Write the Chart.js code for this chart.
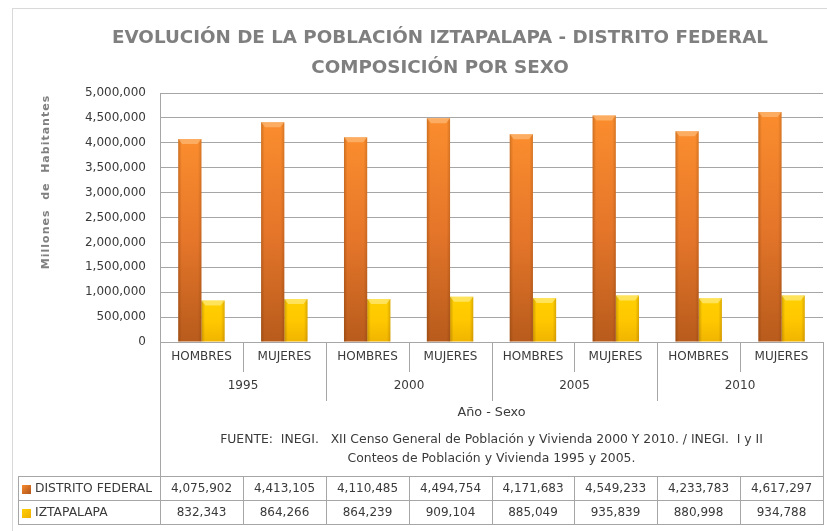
<!DOCTYPE html>
<html>
<head>
<meta charset="utf-8">
<script src="https://cdn.jsdelivr.net/npm/chart.js@4.4.0/dist/chart.umd.min.js"></script>
<style>
  html, body { margin: 0; padding: 0; background: #ffffff; }
  #wrap { width: 827px; height: 531px; position: relative; }
</style>
</head>
<body>
<div id="wrap"><canvas id="c" width="827" height="531"></canvas></div>
<script>
// ---- data ----
const titleLines = ['EVOLUCIÓN DE LA POBLACIÓN IZTAPALAPA - DISTRITO FEDERAL', 'COMPOSICIÓN POR SEXO'];
const categories = ['HOMBRES', 'MUJERES', 'HOMBRES', 'MUJERES', 'HOMBRES', 'MUJERES', 'HOMBRES', 'MUJERES'];
const years = ['1995', '2000', '2005', '2010'];
const seriesNames = ['DISTRITO FEDERAL', 'IZTAPALAPA'];
const distritoFederal = [4075902, 4413105, 4110485, 4494754, 4171683, 4549233, 4233783, 4617297];
const iztapalapa = [832343, 864266, 864239, 909104, 885049, 935839, 880998, 934788];
const yTitle = 'Millones  de  Habitantes';
const xTitle = 'Año - Sexo';
const sourceLines = ['FUENTE:  INEGI.   XII Censo General de Población y Vivienda 2000 Y 2010. / INEGI.  I y II',
                     'Conteos de Población y Vivienda 1995 y 2005.'];

const fmt = v => Number(v).toLocaleString('en-US');
const FONT = '"DejaVu Sans", sans-serif';
const LINE = '#a6a6a6';
const TXT = '#3a3a3a';

function barGradient(ctx, colors) {
  const chart = ctx.chart;
  const area = chart.chartArea;
  if (!area || ctx.type !== 'data') return colors[0];
  const y = chart.scales.y;
  const top = y.getPixelForValue(ctx.raw);
  const bottom = y.getPixelForValue(0);
  const g = chart.ctx.createLinearGradient(0, top, 0, bottom);
  g.addColorStop(0, colors[0]);
  g.addColorStop(0.5, colors[1]);
  g.addColorStop(1, colors[2]);
  return g;
}

const orangeStops = ['#fb8d2e', '#e5762a', '#b85b1c'];
const yellowStops = ['#ffd000', '#ffc800', '#f0b400'];

const decorPlugin = {
  id: 'decor',
  beforeDraw(chart) {
    const c = chart.ctx;
    c.save();
    c.strokeStyle = '#d9d9d9';
    c.lineWidth = 1;
    c.strokeRect(12.5, 8.5, 900, 600);
    c.restore();
  },
  afterDatasetsDraw(chart) {
    const c = chart.ctx;
    c.save();
    chart.data.datasets.forEach((ds, di) => {
      const meta = chart.getDatasetMeta(di);
      meta.data.forEach(bar => {
        const w = bar.width, x0 = bar.x - w / 2, x1 = bar.x + w / 2, t = bar.y, b = bar.base;
        const eg = c.createLinearGradient(x0, 0, x1, 0);
        eg.addColorStop(0, 'rgba(90,40,0,0.28)');
        eg.addColorStop(0.15, 'rgba(90,40,0,0.0)');
        eg.addColorStop(0.85, 'rgba(90,40,0,0.0)');
        eg.addColorStop(1, 'rgba(90,40,0,0.22)');
        c.fillStyle = eg;
        c.fillRect(x0, t, w, b - t);
        c.beginPath();
        c.moveTo(x0, t);
        c.lineTo(x1, t);
        c.lineTo(x1 - 4, t + 5);
        c.lineTo(x0 + 4, t + 5);
        c.closePath();
        c.fillStyle = di === 0 ? 'rgba(255,200,140,0.55)' : 'rgba(255,240,150,0.6)';
        c.fill();
      });
    });
    c.restore();
  },
  afterDraw(chart) {
    const c = chart.ctx;
    const area = chart.chartArea;
    const xs = chart.scales.x;
    const L = area.left, R = area.right, B = area.bottom;
    const n = categories.length;
    const bound = i => {
      if (i === 0) return L;
      if (i === n) return R;
      return Math.round((xs.getPixelForValue(i - 1) + xs.getPixelForValue(i)) / 2);
    };
    const tableTop = 476, rowH = 24;
    c.save();
    c.strokeStyle = LINE;
    c.lineWidth = 1;
    const vline = (x, y0, y1) => { c.beginPath(); c.moveTo(Math.round(x) + 0.5, y0); c.lineTo(Math.round(x) + 0.5, y1); c.stroke(); };
    const hline = (x0, x1, y) => { c.beginPath(); c.moveTo(x0, y + 0.5); c.lineTo(x1, y + 0.5); c.stroke(); };
    vline(L, B, tableTop);
    vline(R, B, tableTop);
    for (let i = 1; i < n; i++) {
      vline(bound(i), B, i % 2 === 0 ? 401 : 372);
    }
    const tl = 18;
    hline(tl, R + 1, tableTop);
    hline(tl, R + 1, tableTop + rowH);
    hline(tl, R + 1, tableTop + 2 * rowH);
    vline(tl, tableTop, tableTop + 2 * rowH);
    for (let i = 0; i <= n; i++) vline(bound(i), tableTop, tableTop + 2 * rowH);

    c.fillStyle = TXT;
    c.textAlign = 'center';
    c.textBaseline = 'middle';
    c.font = '12px ' + FONT;
    for (let i = 0; i < n; i++) {
      const cx = (bound(i) + bound(i + 1)) / 2;
      c.fillText(categories[i], cx, 357);
    }
    for (let j = 0; j < years.length; j++) {
      const cx = (bound(2 * j) + bound(2 * j + 2)) / 2;
      c.fillText(years[j], cx, 386);
    }
    c.font = '12.8px ' + FONT;
    c.fillText(xTitle, (L + R) / 2, 413);
    c.font = '12.4px ' + FONT;
    c.fillText(sourceLines[0], (L + R) / 2, 440);
    c.fillText(sourceLines[1], (L + R) / 2, 459);

    c.font = '12px ' + FONT;
    const rows = [distritoFederal, iztapalapa];
    rows.forEach((arr, r) => {
      const cy = tableTop + rowH * r + rowH / 2 + 0.5;
      arr.forEach((v, i) => {
        const cx = (bound(i) + bound(i + 1)) / 2;
        c.fillText(fmt(v), cx, cy);
      });
    });
    c.textAlign = 'left';
    c.font = '12.3px ' + FONT;
    const swatch = [orangeStops, yellowStops];
    rows.forEach((arr, r) => {
      const cy = tableTop + rowH * r + rowH / 2 + 0.5;
      const g = c.createLinearGradient(22, cy - 4, 30, cy + 4);
      g.addColorStop(0, swatch[r][0]);
      g.addColorStop(1, swatch[r][2]);
      c.fillStyle = g;
      c.fillRect(22, Math.round(cy - 4), 9, 9);
      c.fillStyle = TXT;
      c.fillText(seriesNames[r], 35, cy);
    });

    c.save();
    c.translate(46, 182);
    c.rotate(-Math.PI / 2);
    c.fillStyle = '#808080';
    c.font = 'bold 11px ' + FONT;
    if ('letterSpacing' in c) c.letterSpacing = '1px';
    c.textAlign = 'center';
    c.textBaseline = 'middle';
    c.fillText(yTitle, 0, 0);
    c.restore();

    c.fillStyle = '#7f7f7f';
    c.textAlign = 'center';
    c.textBaseline = 'middle';
    c.font = 'bold 18.3px ' + FONT;
    c.fillText(titleLines[0], 440, 38);
    c.fillText(titleLines[1], 440, 68);
    c.restore();
  }
};

new Chart(document.getElementById('c'), {
  type: 'bar',
  data: {
    labels: categories,
    datasets: [
      { label: seriesNames[0], data: distritoFederal, backgroundColor: ctx => barGradient(ctx, orangeStops), borderWidth: 0 },
      { label: seriesNames[1], data: iztapalapa, backgroundColor: ctx => barGradient(ctx, yellowStops), borderWidth: 0 }
    ]
  },
  options: {
    responsive: false,
    animation: false,
    devicePixelRatio: 1,
    layout: { padding: { left: 0, right: 4, top: 93, bottom: 189 } },
    datasets: { bar: { categoryPercentage: 0.56, barPercentage: 1.0 } },
    plugins: { legend: { display: false }, title: { display: false }, tooltip: { enabled: false } },
    scales: {
      x: { type: 'category', offset: true, display: false, grid: { display: false } },
      y: {
        min: 0, max: 5000000,
        afterFit(scale) { scale.width = 160; },
        ticks: { stepSize: 500000, callback: v => fmt(v), color: TXT, font: { family: FONT, size: 12 }, padding: 14 },
        grid: { color: LINE, drawTicks: false, lineWidth: 1 },
        border: { display: true, color: LINE }
      }
    }
  },
  plugins: [decorPlugin]
});
</script>
</body>
</html>
